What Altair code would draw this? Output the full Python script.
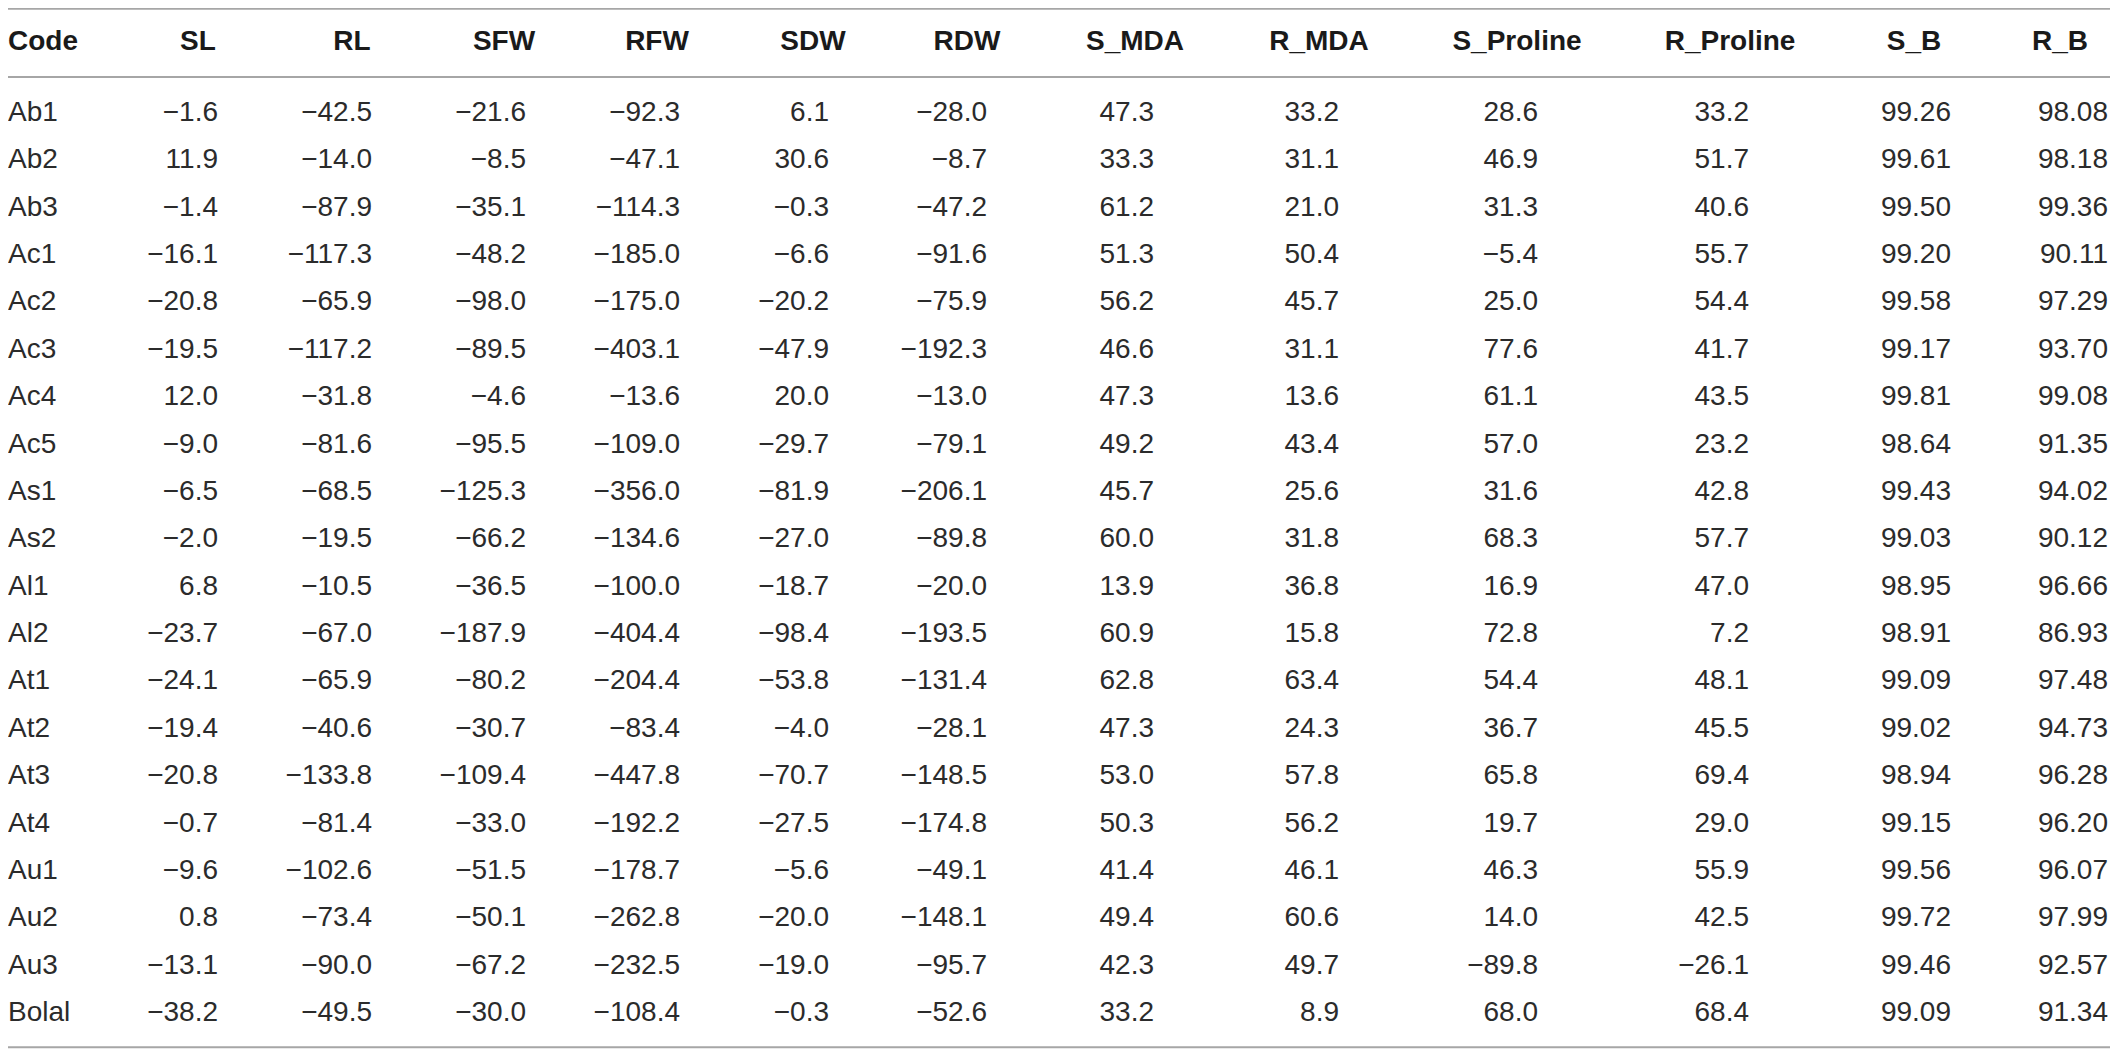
import altair as alt
import pandas as pd

codes = ["Ab1", "Ab2", "Ab3", "Ac1", "Ac2", "Ac3", "Ac4", "Ac5", "As1", "As2",
         "Al1", "Al2", "At1", "At2", "At3", "At4", "Au1", "Au2", "Au3", "Bolal"]
SL = [-1.6, 11.9, -1.4, -16.1, -20.8, -19.5, 12.0, -9.0, -6.5, -2.0,
      6.8, -23.7, -24.1, -19.4, -20.8, -0.7, -9.6, 0.8, -13.1, -38.2]
RL = [-42.5, -14.0, -87.9, -117.3, -65.9, -117.2, -31.8, -81.6, -68.5, -19.5,
      -10.5, -67.0, -65.9, -40.6, -133.8, -81.4, -102.6, -73.4, -90.0, -49.5]
SFW = [-21.6, -8.5, -35.1, -48.2, -98.0, -89.5, -4.6, -95.5, -125.3, -66.2,
       -36.5, -187.9, -80.2, -30.7, -109.4, -33.0, -51.5, -50.1, -67.2, -30.0]
RFW = [-92.3, -47.1, -114.3, -185.0, -175.0, -403.1, -13.6, -109.0, -356.0, -134.6,
       -100.0, -404.4, -204.4, -83.4, -447.8, -192.2, -178.7, -262.8, -232.5, -108.4]
SDW = [6.1, 30.6, -0.3, -6.6, -20.2, -47.9, 20.0, -29.7, -81.9, -27.0,
       -18.7, -98.4, -53.8, -4.0, -70.7, -27.5, -5.6, -20.0, -19.0, -0.3]
RDW = [-28.0, -8.7, -47.2, -91.6, -75.9, -192.3, -13.0, -79.1, -206.1, -89.8,
       -20.0, -193.5, -131.4, -28.1, -148.5, -174.8, -49.1, -148.1, -95.7, -52.6]
S_MDA = [47.3, 33.3, 61.2, 51.3, 56.2, 46.6, 47.3, 49.2, 45.7, 60.0,
         13.9, 60.9, 62.8, 47.3, 53.0, 50.3, 41.4, 49.4, 42.3, 33.2]
R_MDA = [33.2, 31.1, 21.0, 50.4, 45.7, 31.1, 13.6, 43.4, 25.6, 31.8,
         36.8, 15.8, 63.4, 24.3, 57.8, 56.2, 46.1, 60.6, 49.7, 8.9]
S_Proline = [28.6, 46.9, 31.3, -5.4, 25.0, 77.6, 61.1, 57.0, 31.6, 68.3,
             16.9, 72.8, 54.4, 36.7, 65.8, 19.7, 46.3, 14.0, -89.8, 68.0]
R_Proline = [33.2, 51.7, 40.6, 55.7, 54.4, 41.7, 43.5, 23.2, 42.8, 57.7,
             47.0, 7.2, 48.1, 45.5, 69.4, 29.0, 55.9, 42.5, -26.1, 68.4]
S_B = [99.26, 99.61, 99.50, 99.20, 99.58, 99.17, 99.81, 98.64, 99.43, 99.03,
       98.95, 98.91, 99.09, 99.02, 98.94, 99.15, 99.56, 99.72, 99.46, 99.09]
R_B = [98.08, 98.18, 99.36, 90.11, 97.29, 93.70, 99.08, 91.35, 94.02, 90.12,
       96.66, 86.93, 97.48, 94.73, 96.28, 96.20, 96.07, 97.99, 92.57, 91.34]

headers = ["Code", "SL", "RL", "SFW", "RFW", "SDW", "RDW", "S_MDA", "R_MDA",
           "S_Proline", "R_Proline", "S_B", "R_B"]
numeric_cols = headers[1:]
series = [SL, RL, SFW, RFW, SDW, RDW, S_MDA, R_MDA, S_Proline, R_Proline, S_B, R_B]
decimals = [1] * 10 + [2] * 2

# layout (pixels in plot coordinates)
W, H = 2102, 1041
header_centers = [35, 190, 344, 496, 649, 805, 959, 1127, 1311, 1509, 1722, 1906, 2052]
value_right = [210, 364, 518, 672, 821, 979, 1146, 1331, 1530, 1741, 1943, 2100]
ROW_STEP = 47.37
ROW0 = 105


def fmt(v, d):
    s = f"{abs(v):.{d}f}"
    return ("\u2212" + s) if v < 0 else s


rows = []
for ci, (c, vals, d) in enumerate(zip(numeric_cols, series, decimals)):
    for i, v in enumerate(vals):
        rows.append({"ci": ci, "row": i, "label": fmt(v, d)})
values_df = pd.DataFrame(rows)
codes_df = pd.DataFrame({"row": list(range(len(codes))), "label": codes})
header_df = pd.DataFrame({"ci": list(range(len(headers))), "col": headers,
                          "row": [-1.5] * len(headers)})
rules_df = pd.DataFrame({"row": [-2.2, -0.76, 19.72]})

y_scale = alt.Scale(domain=[0, 19], range=[ROW0, ROW0 + 19 * ROW_STEP])
y_enc = alt.Y("row:Q", scale=y_scale, axis=None)

FONT = "Liberation Sans"

header_layer = alt.Chart(header_df).mark_text(
    font=FONT, fontSize=28, fontWeight="bold", align="center", baseline="middle",
    color="#1a1a1a"
).encode(
    x=alt.X("ci:Q", scale=alt.Scale(domain=list(range(len(headers))),
                                    range=header_centers), axis=None),
    y=y_enc,
    text="col:N",
)

code_layer = alt.Chart(codes_df).mark_text(
    font=FONT, fontSize=28, align="left", baseline="middle", color="#2b2b2b"
).encode(
    x=alt.value(0),
    y=y_enc,
    text="label:N",
)

value_layer = alt.Chart(values_df).mark_text(
    font=FONT, fontSize=28, align="right", baseline="middle", color="#2b2b2b"
).encode(
    x=alt.X("ci:Q", scale=alt.Scale(domain=list(range(len(numeric_cols))),
                                    range=value_right), axis=None),
    y=y_enc,
    text="label:N",
)

rule_layer = alt.Chart(rules_df).mark_rule(color="#a6a6a6", strokeWidth=2).encode(
    x=alt.value(0),
    x2=alt.value(W),
    y=y_enc,
)

chart = alt.layer(rule_layer, header_layer, code_layer, value_layer).resolve_scale(
    x="independent"
).properties(
    width=W, height=H, padding=0, autosize=alt.AutoSizeParams(type="none")
).configure_view(stroke=None)

chart.save("out.html", embed_options={"renderer": "svg", "actions": False})
